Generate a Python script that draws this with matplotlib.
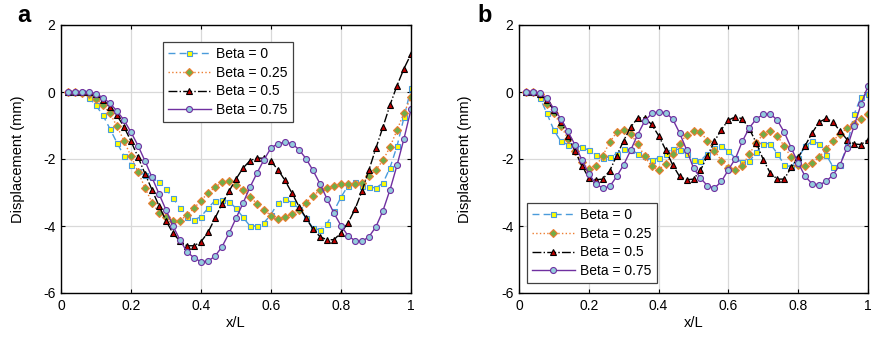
import numpy as np
import matplotlib
matplotlib.use("Agg")
import matplotlib.pyplot as plt  # noqa: E402

plt.rcParams["font.family"] = ["Liberation Sans", "DejaVu Sans"]
plt.rcParams["axes.unicode_minus"] = False

# sample positions along the beam
x = np.linspace(0.02, 1.0, 50)
labels = ["Beta = 0", "Beta = 0.25", "Beta = 0.5", "Beta = 0.75"]

# panel a
a_beta0 = [0, 0, 0, -0.17, -0.40, -0.70, -1.10, -1.52, -1.90, -2.17,
           -2.37, -2.48, -2.54, -2.68, -2.90, -3.17, -3.47, -3.72, -3.82, -3.72,
           -3.47, -3.24, -3.22, -3.27, -3.47, -3.74, -4.00, -4.00, -3.90, -3.66,
           -3.30, -3.20, -3.30, -3.48, -3.76, -4.06, -4.12, -3.93, -3.55, -3.14,
           -2.80, -2.69, -2.80, -2.84, -2.86, -2.72, -2.26, -1.62, -0.76, 0.11]
a_beta025 = [0, 0, -0.02, -0.07, -0.20, -0.40, -0.64, -1.02, -1.46, -1.92,
             -2.38, -2.86, -3.30, -3.60, -3.74, -3.84, -3.84, -3.67, -3.47, -3.24,
             -3.02, -2.84, -2.70, -2.66, -2.78, -2.92, -3.12, -3.34, -3.52, -3.69,
             -3.78, -3.74, -3.64, -3.52, -3.32, -3.09, -2.94, -2.87, -2.82, -2.76,
             -2.74, -2.74, -2.72, -2.52, -2.32, -2.04, -1.64, -1.14, -0.62, -0.16]
a_beta05 = [0, 0, 0, 0, -0.07, -0.24, -0.44, -0.70, -1.04, -1.47,
            -1.94, -2.44, -2.92, -3.40, -3.84, -4.22, -4.45, -4.59, -4.59, -4.47,
            -4.19, -3.77, -3.34, -2.96, -2.60, -2.27, -2.05, -1.97, -1.98, -2.07,
            -2.32, -2.64, -3.02, -3.42, -3.76, -4.09, -4.32, -4.41, -4.41, -4.20,
            -3.91, -3.50, -2.96, -2.32, -1.67, -1.04, -0.39, 0.19, 0.70, 1.13]
a_beta075 = [0, 0, 0, 0, -0.05, -0.17, -0.34, -0.57, -0.84, -1.20,
             -1.60, -2.06, -2.55, -3.04, -3.52, -4.00, -4.42, -4.77, -4.95, -5.07,
             -5.05, -4.90, -4.62, -4.22, -3.77, -3.32, -2.84, -2.42, -2.02, -1.67,
             -1.54, -1.50, -1.54, -1.72, -1.99, -2.34, -2.74, -3.19, -3.62, -3.99,
             -4.29, -4.44, -4.46, -4.32, -4.02, -3.54, -2.92, -2.19, -1.39, -0.52]

# panel b
b_beta0 = [0, 0, -0.17, -0.64, -1.14, -1.47, -1.57, -1.60, -1.64, -1.74,
           -1.87, -1.97, -1.94, -1.84, -1.70, -1.72, -1.84, -1.92, -2.02, -1.97,
           -1.84, -1.69, -1.72, -1.84, -2.04, -2.05, -1.84, -1.67, -1.62, -1.77,
           -1.98, -2.10, -2.07, -1.80, -1.54, -1.54, -1.84, -2.17, -2.24, -1.97,
           -1.62, -1.47, -1.54, -1.87, -2.24, -2.17, -1.62, -0.67, -0.15, -0.05]
b_beta025 = [0, 0, -0.05, -0.35, -0.62, -1.00, -1.40, -1.75, -2.10, -2.30,
             -2.22, -1.90, -1.50, -1.20, -1.12, -1.25, -1.55, -1.92, -2.22, -2.32,
             -2.15, -1.85, -1.55, -1.27, -1.15, -1.20, -1.45, -1.75, -2.05, -2.28,
             -2.32, -2.20, -1.85, -1.52, -1.25, -1.17, -1.30, -1.62, -1.95, -2.18,
             -2.22, -2.12, -1.95, -1.70, -1.45, -1.25, -1.08, -0.95, -0.80, -0.65]
b_beta05 = [0, 0, -0.05, -0.25, -0.55, -0.90, -1.30, -1.75, -2.20, -2.56,
            -2.62, -2.60, -2.35, -1.90, -1.45, -1.05, -0.78, -0.77, -0.97, -1.30,
            -1.72, -2.17, -2.52, -2.62, -2.60, -2.34, -1.90, -1.47, -1.12, -0.84,
            -0.74, -0.80, -1.10, -1.52, -2.02, -2.42, -2.60, -2.60, -2.25, -1.95,
            -1.60, -1.22, -0.90, -0.79, -0.90, -1.17, -1.42, -1.55, -1.57, -1.42]
b_beta075 = [0, 0, -0.04, -0.19, -0.50, -0.80, -1.17, -1.57, -2.02, -2.44,
             -2.74, -2.87, -2.82, -2.52, -2.17, -1.74, -1.27, -0.87, -0.64, -0.59,
             -0.62, -0.80, -1.22, -1.72, -2.27, -2.57, -2.80, -2.87, -2.67, -2.32,
             -1.99, -1.47, -1.07, -0.80, -0.67, -0.65, -0.84, -1.20, -1.67, -2.12,
             -2.52, -2.74, -2.77, -2.67, -2.47, -2.17, -1.67, -1.02, -0.37, 0.18]

styles = [
    dict(color="#4A9BDB", ls=(0, (5, 3)), marker="s", ms=3.6, mfc="#FFFF00", mec="#4A9BDB"),
    dict(color="#ED7D31", ls=":", marker="D", ms=3.7, mfc="#70AD47", mec="#ED7D31"),
    dict(color="black", ls="-.", marker="^", ms=4.6, mfc="#C00000", mec="black"),
    dict(color="#7030A0", ls="-", marker="o", ms=4.3, mfc="#92CDDC", mec="#7030A0"),
]

fig = plt.figure(figsize=(8.72, 3.38), dpi=100)
ax_a = fig.add_axes([61 / 872, 45 / 338, 350 / 872, 268 / 338])
ax_b = fig.add_axes([519 / 872, 45 / 338, 349 / 872, 268 / 338])

panels = [
    (ax_a, [a_beta0, a_beta025, a_beta05, a_beta075], -0.103),
    (ax_b, [b_beta0, b_beta025, b_beta05, b_beta075], -0.135),
]

for ax, series, ylab_x in panels:
    for y, lab, st in zip(series, labels, styles):
        ax.plot(x, y, lw=1.0, mew=0.8, label=lab, **st)
    ax.set_xlim(0, 1)
    ax.set_ylim(-6, 2)
    ax.set_xticks([0, 0.2, 0.4, 0.6, 0.8, 1])
    ax.set_xticklabels(["0", "0.2", "0.4", "0.6", "0.8", "1"])
    ax.set_yticks([-6, -4, -2, 0, 2])
    ax.grid(True, color="#d9d9d9", lw=0.9)
    ax.set_axisbelow(True)
    ax.tick_params(direction="in", top=True, right=True, length=3, width=0.8,
                   labelsize=10, pad=4)
    for sp in ax.spines.values():
        sp.set_linewidth(1.0)
    ax.set_xlabel("x/L", fontsize=10.5)
    ax.set_ylabel("Displacement (mm)", fontsize=10.5)
    ax.yaxis.set_label_coords(ylab_x, 0.5)
    ax.xaxis.set_label_coords(0.5, -0.085)

leg_kw = dict(fontsize=10, handlelength=3.1, handletextpad=0.4, labelspacing=0.35,
              borderpad=0.35, borderaxespad=0, fancybox=False, framealpha=1,
              edgecolor="#404040")
la = ax_a.legend(loc="upper left", bbox_to_anchor=(0.291, 0.937), **leg_kw)
lb = ax_b.legend(loc="lower left", bbox_to_anchor=(0.023, 0.037), **leg_kw)
for lg in (la, lb):
    lg.get_frame().set_linewidth(0.9)

fig.text(17 / 872, 1 - 22 / 338, "a", fontsize=17, fontweight="bold", va="baseline")
fig.text(477 / 872, 1 - 22 / 338, "b", fontsize=17, fontweight="bold", va="baseline")

fig.savefig("out.png", dpi=100)
plt.close(fig)
